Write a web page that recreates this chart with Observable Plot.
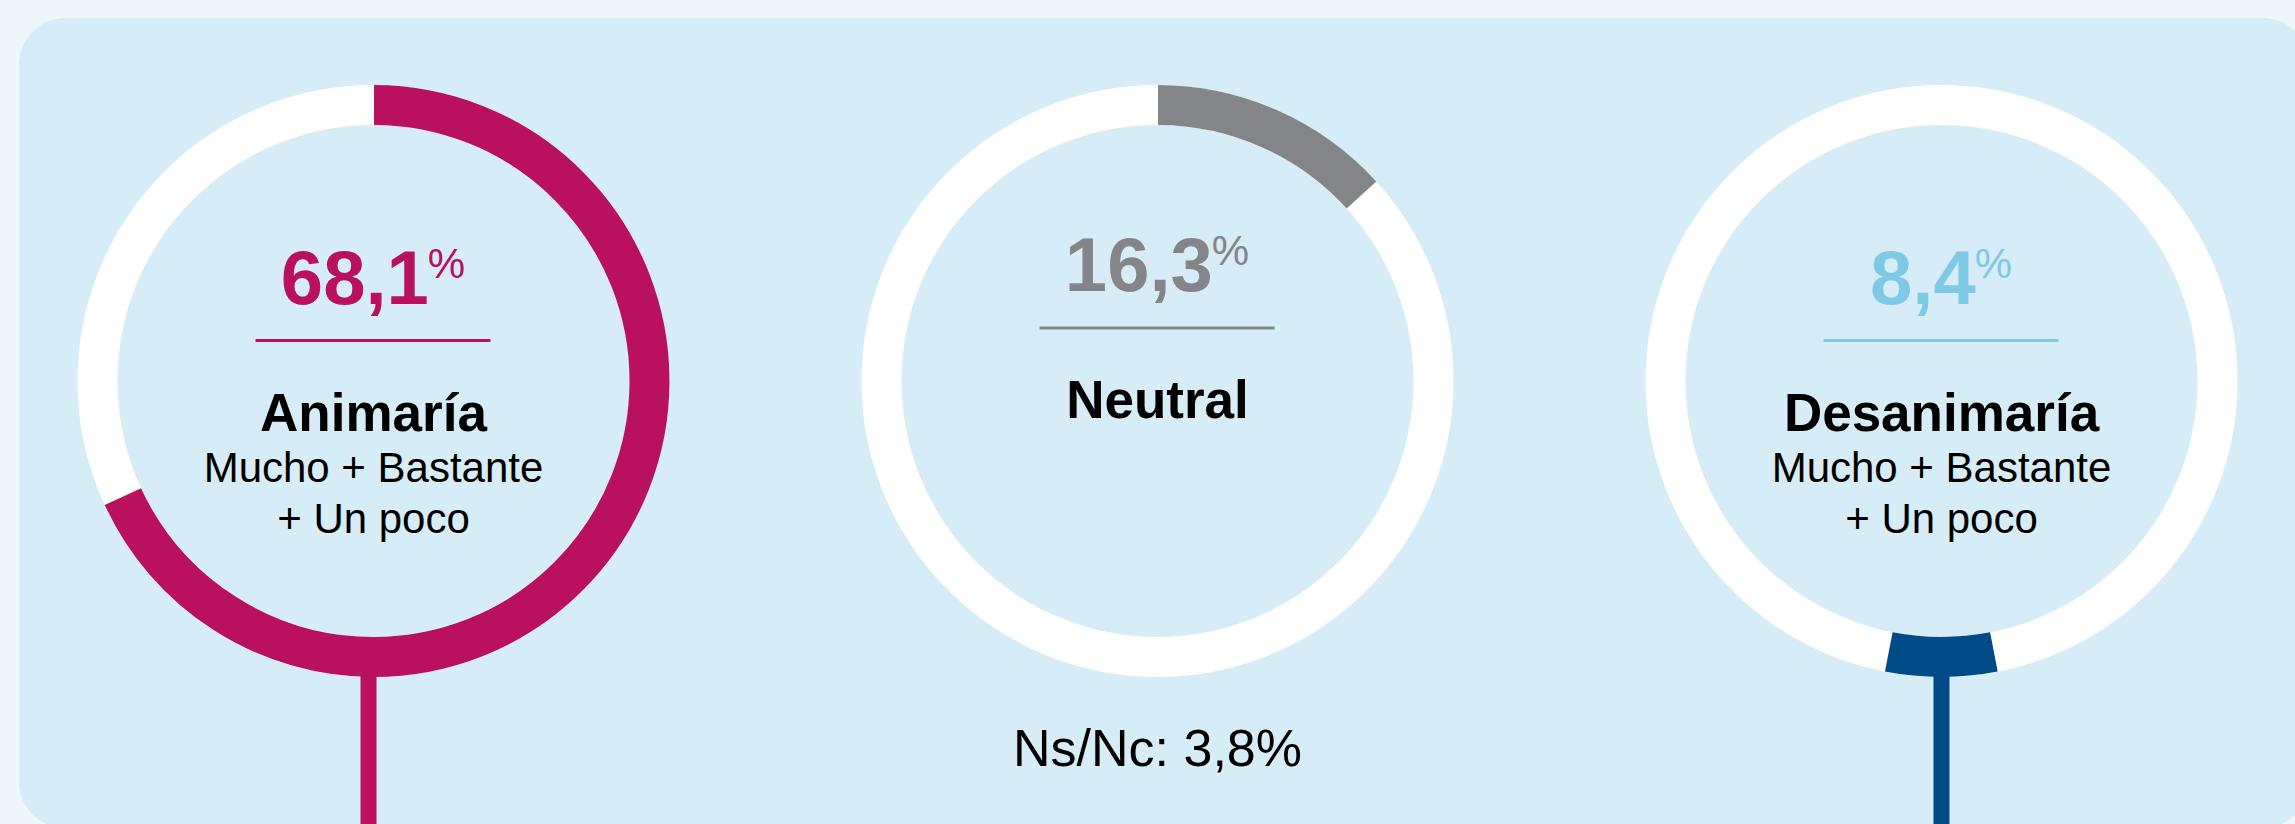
<!DOCTYPE html>
<html lang="es">
<head>
<meta charset="utf-8">
<script src="https://cdn.jsdelivr.net/npm/d3@7"></script>
<script src="https://cdn.jsdelivr.net/npm/@observablehq/plot@0.6"></script>
<style>
html, body { margin: 0; padding: 0; background: #eef7fb; }
#wrap { position: relative; width: 2295px; height: 824px; overflow: hidden; background: #eef7fb; }
#panel { position: absolute; left: 19px; top: 18px; width: 2290px; height: 810px; border-radius: 46px; background: #d6edf7; }
#chart { position: absolute; left: 0; top: 0; }
</style>
</head>
<body>
<div id="wrap"><div id="panel"></div><div id="chart"></div></div>
<script>
// ---------- data ----------
const categories = ["Animaría", "Neutral", "Desanimaría"];
const values = [68.1, 16.3, 8.4];                 // printed percentages
const ringShares = [68.1, 13.2, 6.1];             // share of the ring coloured
const ringAnchor = ["top", "top", "bottom"];      // where the coloured arc sits
const subtitles = ["Mucho + Bastante\n+ Un poco", "", "Mucho + Bastante\n+ Un poco"];
const stemCategories = ["Animaría", "Desanimaría"];
const noAnswer = 3.8;

// ---------- styles ----------
const labelColors = ["#b9105f", "#848589", "#7ec9e6"];
const arcColors = ["#b9105f", "#848589", "#004a87"];
const FONT = '"Liberation Sans", Arial, Helvetica, sans-serif';
const W = 2295, H = 824;
const CY = 380.5, R_MID = 276, RING = 40;
const textShift = [0, -12.5, 0];
const stemDx = {"Animaría": -5, "Desanimaría": 0};
const NUM_SIZE = 76, PCT_SIZE = 42;

const fmt = v => v.toFixed(1).replace(".", ",");
const ctx = document.createElement("canvas").getContext("2d");
function measure(str, size, weight) {
  ctx.font = `${weight} ${size}px ${FONT}`;
  return ctx.measureText(str).width;
}

const marks = [];

// white base rings
marks.push(Plot.dot(categories, {
  x: d => d, frameAnchor: "top", dy: CY, r: R_MID,
  fill: "none", stroke: "white", strokeWidth: RING
}));

categories.forEach((c, i) => {
  const C = 2 * Math.PI * R_MID;
  const share = ringShares[i] / 100;
  const L = share * C;
  const a0 = ringAnchor[i] === "top" ? 0 : 180 - share * 180;
  const s0 = ((((a0 - 90) / 360) % 1) + 1) % 1 * C;
  marks.push(Plot.dot([c], {
    x: d => d, frameAnchor: "top", dy: CY, r: R_MID,
    fill: "none", stroke: arcColors[i], strokeWidth: RING,
    strokeDasharray: `${L} ${C - L}`, strokeDashoffset: C - s0
  }));
});

// stems
stemCategories.forEach(c => {
  const i = categories.indexOf(c);
  marks.push(Plot.ruleX([c], {
    x: d => d, stroke: arcColors[i], strokeWidth: 16,
    insetTop: CY + R_MID + RING / 2 - 1, dx: stemDx[c]
  }));
});

// labels
categories.forEach((c, i) => {
  const sh = textShift[i];
  const numStr = fmt(values[i]);
  const w1 = measure(numStr, NUM_SIZE, "bold");
  const w2 = measure("%", PCT_SIZE, "normal");
  const off = -(w1 + w2) / 2 + w1;
  marks.push(Plot.text([c], {
    x: d => d, text: () => numStr, frameAnchor: "top", dy: 303 + sh, dx: off,
    textAnchor: "end", lineAnchor: "bottom", fontSize: NUM_SIZE, fontWeight: "bold",
    fontFamily: FONT, fill: labelColors[i]
  }));
  marks.push(Plot.text([c], {
    x: d => d, text: () => "%", frameAnchor: "top", dy: 277 + sh, dx: off - 1,
    textAnchor: "start", lineAnchor: "bottom", fontSize: PCT_SIZE,
    fontFamily: FONT, fill: labelColors[i]
  }));
  // underline
  marks.push(Plot.cell([c], {
    x: d => d, fill: labelColors[i],
    insetLeft: 274.5, insetRight: 274.5,
    insetTop: 339 + sh, insetBottom: H - (342 + sh)
  }));
  // category title
  marks.push(Plot.text([c], {
    x: d => d, text: d => d, frameAnchor: "top", dy: 430 + sh,
    lineAnchor: "bottom", fontSize: 53, fontWeight: "bold",
    fontFamily: FONT, fill: "#000"
  }));
  if (subtitles[i]) {
    marks.push(Plot.text([c], {
      x: d => d, text: () => subtitles[i], frameAnchor: "top", dy: 532 + sh,
      lineAnchor: "bottom", lineHeight: 51 / 42, fontSize: 42,
      fontFamily: FONT, fill: "#000"
    }));
  }
});

marks.push(Plot.text(["Neutral"], {
  x: d => d, text: () => `Ns/Nc: ${fmt(noAnswer)}%`, frameAnchor: "top", dy: 765,
  lineAnchor: "bottom", fontSize: 52, fontFamily: FONT, fill: "#000"
}));

const chart = Plot.plot({
  width: W, height: H,
  marginTop: 0, marginRight: 0, marginBottom: 0, marginLeft: 0,
  x: {type: "band", domain: categories, range: [-19, 2333], padding: 0, round: false, axis: null},
  style: {background: "transparent", overflow: "visible"},
  marks
});
document.getElementById("chart").appendChild(chart);
</script>
</body>
</html>
